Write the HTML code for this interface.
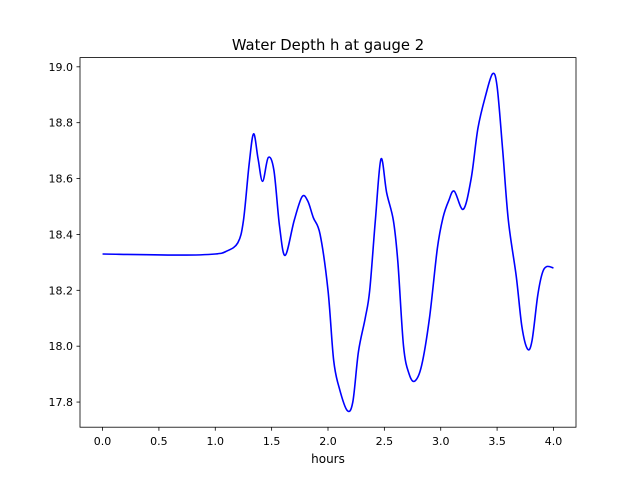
<!DOCTYPE html>
<html><head><meta charset="utf-8"><style>
body{margin:0;background:#fff}
svg text{font-family:"DejaVu Sans","Liberation Sans",sans-serif;fill:#000}
</style></head><body>
<svg id="chart" width="640" height="480" xmlns="http://www.w3.org/2000/svg">
<rect width="640" height="480" fill="#fff"/>
<text x="328" y="50" font-size="14.8" text-anchor="middle">Water Depth h at gauge 2</text>
<text x="328" y="463" font-size="12" text-anchor="middle">hours</text>
<g id="ticks"></g>
<path id="line" fill="none" stroke="#0000ff" stroke-width="1.6" stroke-linejoin="round"/>
<rect x="80" y="57.6" width="496" height="369.6" fill="none" stroke="#000" stroke-width="0.8"/>
</svg>
<script>
const xs=[0,0.7,1.0,1.1,1.2,1.25,1.3,1.34,1.38,1.42,1.47,1.52,1.57,1.62,1.7,1.77,1.82,1.87,1.93,2.0,2.05,2.1,2.17,2.22,2.27,2.33,2.37,2.42,2.47,2.52,2.58,2.62,2.67,2.72,2.77,2.83,2.9,2.97,3.02,3.07,3.12,3.2,3.27,3.33,3.4,3.46,3.5,3.55,3.6,3.67,3.72,3.77,3.81,3.86,3.9,3.94,4.0];
const ys=[18.33,18.326,18.33,18.34,18.37,18.45,18.65,18.76,18.67,18.59,18.675,18.63,18.43,18.325,18.45,18.535,18.52,18.46,18.4,18.2,17.95,17.85,17.77,17.8,17.98,18.1,18.2,18.45,18.67,18.55,18.45,18.3,18.0,17.9,17.875,17.93,18.1,18.35,18.46,18.52,18.555,18.49,18.6,18.78,18.9,18.975,18.93,18.7,18.45,18.25,18.07,17.99,18.02,18.18,18.26,18.285,18.28];
const xTicks=[0,0.5,1.0,1.5,2.0,2.5,3.0,3.5,4.0];
const yTicks=[17.8,18.0,18.2,18.4,18.6,18.8,19.0];
const X=v=>80+(v+0.2)/4.4*496;
const Y=v=>427.2-(v-17.71)/(19.033-17.71)*369.6;
const NS="http://www.w3.org/2000/svg";
const g=document.getElementById('ticks');
function mk(t,a){const e=document.createElementNS(NS,t);for(const k in a)e.setAttribute(k,a[k]);g.appendChild(e);return e;}
xTicks.forEach(v=>{
const l=mk('line',{x1:X(v),x2:X(v),y1:427.2,y2:430.7,stroke:'#000','stroke-width':0.8});


const t=mk('text',{x:X(v),y:445,'font-size':11,'text-anchor':'middle'});
t.textContent=v.toFixed(1);


});
yTicks.forEach(v=>{
const l=mk('line',{x1:76.5,x2:80,y1:Y(v),y2:Y(v),stroke:'#000','stroke-width':0.8});


const t=mk('text',{x:73,y:Y(v)+4,'font-size':11,'text-anchor':'end'});
t.textContent=v.toFixed(1);


});
const P=xs.map((x,i)=>[X(x),Y(ys[i])]);
let d='M'+P[0][0]+','+P[0][1];
for(let i=0;i<P.length-1;i++){
const p0=P[Math.max(0,i-1)],p1=P[i],p2=P[i+1],p3=P[Math.min(P.length-1,i+2)];
const c1=[p1[0]+(p2[0]-p0[0])/6,p1[1]+(p2[1]-p0[1])/6];
const c2=[p2[0]-(p3[0]-p1[0])/6,p2[1]-(p3[1]-p1[1])/6];
d+=' C'+c1.join(',')+' '+c2.join(',')+' '+p2.join(',');
}
document.getElementById('line').setAttribute('d',d);
</script>
</body></html>
